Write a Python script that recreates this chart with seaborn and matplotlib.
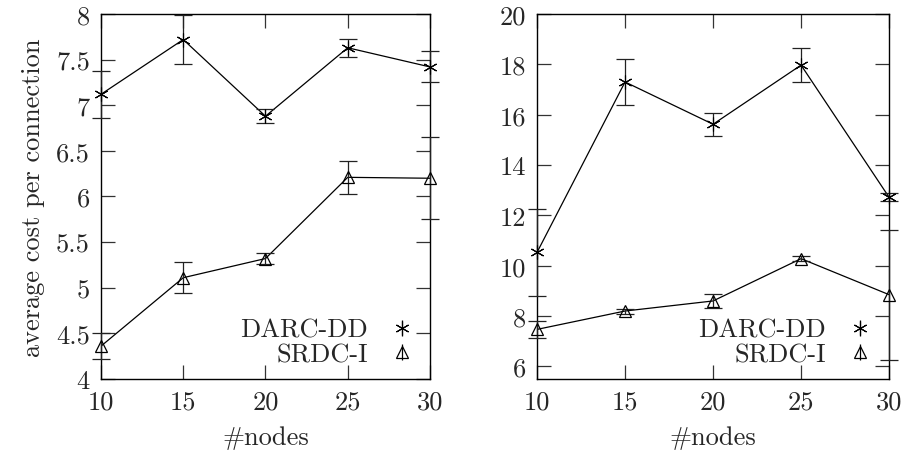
#!/usr/bin/env python3
"""Average cost per connection vs. number of nodes, two scenarios."""

import pandas as pd
import matplotlib.pyplot as plt
import seaborn as sns
from matplotlib.legend_handler import HandlerTuple
from matplotlib.ticker import FormatStrFormatter, MultipleLocator

NODES = [10, 15, 20, 25, 30]

# left panel
darc_left = [7.12, 7.72, 6.88, 7.63, 7.42]
darc_left_err = [0.26, 0.27, 0.08, 0.10, 0.17]
srdc_left = [4.36, 5.11, 5.32, 6.21, 6.20]
srdc_left_err = [0.14, 0.17, 0.06, 0.18, 0.45]

# right panel
darc_right = [10.53, 17.30, 15.62, 17.97, 12.72]
darc_right_err = [1.72, 0.91, 0.46, 0.68, 0.15]
srdc_right = [7.47, 8.20, 8.60, 10.28, 8.85]
srdc_right_err = [0.33, 0.10, 0.28, 0.10, 2.58]

SERIES = ["DARC-DD", "SRDC-I"]
MARKERS = {"DARC-DD": (6, 2, 0), "SRDC-I": "^"}
FS = 19

sns.set_theme(style="ticks")
plt.rcParams['font.family'] = ['cmr10', 'DejaVu Serif']
plt.rcParams['mathtext.fontset'] = 'cm'
plt.rcParams['axes.unicode_minus'] = False


def make_panel(ax, darc, darc_err, srdc, srdc_err, ylim, ystep):
    df = pd.DataFrame({"nodes": NODES * 2,
                       "cost": darc + srdc,
                       "series": [SERIES[0]] * 5 + [SERIES[1]] * 5})
    sns.lineplot(data=df, x="nodes", y="cost", units="series",
                 estimator=None, color="black", lw=0.9, ax=ax, legend=False)
    handles = []
    for name, y, e in [(SERIES[0], darc, darc_err), (SERIES[1], srdc, srdc_err)]:
        eb = ax.errorbar(NODES, y, yerr=e, fmt="none", ecolor="#222222",
                         elinewidth=0.9, capsize=6.5, capthick=0.9, zorder=3)
        for art in eb.lines[1] + eb.lines[2]:
            art.set_clip_on(False)
        m = MARKERS[name]
        ms = 10 if name == "DARC-DD" else 8
        mew = 0.8 if name == "DARC-DD" else 0.9
        ax.plot(NODES, y, ls="none", marker=m, ms=ms, mfc="none",
                mec="black", mew=mew, zorder=4, clip_on=False)
        # key sample: point with a short error bar through it
        pt = ax.plot([], [], ls="none", marker=m, ms=ms, mfc="none",
                     mec="black", mew=mew)[0]
        bar = ax.plot([], [], ls="none", marker="|", ms=11, mec="black",
                      mew=0.9)[0]
        handles.append((pt, bar))
    ax.set_xlim(10, 30)
    ax.set_ylim(*ylim)
    ax.xaxis.set_major_locator(MultipleLocator(5))
    ax.yaxis.set_major_locator(MultipleLocator(ystep))
    ax.yaxis.set_major_formatter(FormatStrFormatter("%g"))
    ax.tick_params(direction="in", length=10, width=0.9, top=True, right=True,
                   labelsize=FS, pad=8, color="#333333")
    for s in ax.spines.values():
        s.set_linewidth(1.0)
        s.set_color("black")
    ax.set_xlabel("#nodes", fontsize=FS, labelpad=8)
    ax.set_ylabel("")
    ax.legend(handles, SERIES, loc="lower right",
              bbox_to_anchor=(0.955, 0.035), frameon=False, markerfirst=False,
              fontsize=FS, handlelength=1.0, handletextpad=0.8,
              labelspacing=0.02, borderaxespad=0, borderpad=0,
              handler_map={tuple: HandlerTuple(ndivide=1, pad=0)})


def main():
    fig = plt.figure(figsize=(9.05, 4.56), dpi=100)
    ax1 = fig.add_axes([0.1116, 0.1667, 0.3635, 0.8004])
    ax2 = fig.add_axes([0.5934, 0.1667, 0.389, 0.8004])
    make_panel(ax1, darc_left, darc_left_err, srdc_left, srdc_left_err,
               (4, 8), 0.5)
    make_panel(ax2, darc_right, darc_right_err, srdc_right, srdc_right_err,
               (5.5, 20), 2)
    ax1.set_ylabel("average cost per connection", fontsize=FS, labelpad=8)
    fig.savefig("out.png", dpi=100)


if __name__ == '__main__':
    main()
